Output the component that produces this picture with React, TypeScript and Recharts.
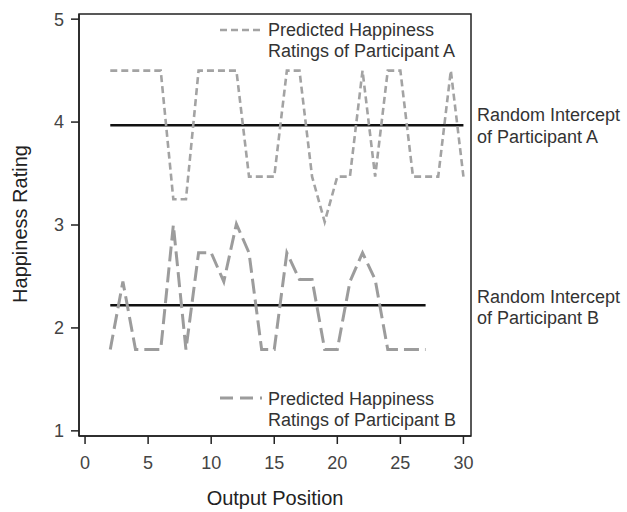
import { LineChart, Line, XAxis, YAxis } from 'recharts'

// output positions and predicted ratings
const positionsA = [2, 3, 4, 5, 6, 7, 8, 9, 10, 11, 12, 13, 14, 15, 16, 17, 18, 19, 20, 21, 22, 23, 24, 25, 26, 27, 28, 29, 30]
const ratingsA = [4.5, 4.5, 4.5, 4.5, 4.5, 3.25, 3.25, 4.5, 4.5, 4.5, 4.5, 3.47, 3.47, 3.47, 4.5, 4.5, 3.47, 3.03, 3.47, 3.47, 4.5, 3.47, 4.5, 4.5, 3.47, 3.47, 3.47, 4.5, 3.47]

const positionsB = [2, 3, 4, 5, 6, 7, 8, 9, 10, 11, 12, 13, 14, 15, 16, 17, 18, 19, 20, 21, 22, 23, 24, 25, 26, 27]
const ratingsB = [1.79, 2.45, 1.79, 1.79, 1.79, 3.0, 1.79, 2.73, 2.73, 2.45, 3.01, 2.73, 1.79, 1.79, 2.73, 2.47, 2.47, 1.79, 1.79, 2.45, 2.73, 2.47, 1.79, 1.79, 1.79, 1.79]

// random intercepts: [from, to] positions and level
const interceptASpan = [2, 30]
const interceptA = 3.97
const interceptBSpan = [2, 27]
const interceptB = 2.22

const xTicks = [0, 5, 10, 15, 20, 25, 30]
const yTicks = [1, 2, 3, 4, 5]

const seriesA = positionsA.map((x, i) => ({ x, y: ratingsA[i] }))
const seriesB = positionsB.map((x, i) => ({ x, y: ratingsB[i] }))
const lineA = interceptASpan.map((x) => ({ x, y: interceptA }))
const lineB = interceptBSpan.map((x) => ({ x, y: interceptB }))

const FONT = '"Liberation Sans", Arial, sans-serif'
const tickStyle = { fill: '#444', fontSize: 18, fontFamily: FONT }

export default function App() {
  return (
    <div style={{ position: 'relative', width: 627, height: 512, fontFamily: FONT }}>
      <style>{`body{margin:0}`}</style>
      <LineChart width={627} height={512} margin={{ top: 14, right: 156, bottom: 0, left: 0 }}>
        <XAxis
          dataKey="x" type="number" domain={[-0.48, 30.6]} ticks={xTicks} allowDataOverflow
          height={76} tick={tickStyle} tickSize={8} tickMargin={12}
          axisLine={{ stroke: '#222', strokeWidth: 1.5 }} tickLine={{ stroke: '#222', strokeWidth: 1.5 }}
        />
        <YAxis
          dataKey="y" type="number" domain={[0.95, 5.05]} ticks={yTicks} allowDataOverflow
          width={79} tick={tickStyle} tickSize={8} tickMargin={7}
          axisLine={{ stroke: '#222', strokeWidth: 1.5 }} tickLine={{ stroke: '#222', strokeWidth: 1.5 }}
        />
        <Line data={lineA} dataKey="y" stroke="#111" strokeWidth={2.5} dot={false} isAnimationActive={false} />
        <Line data={lineB} dataKey="y" stroke="#111" strokeWidth={2.5} dot={false} isAnimationActive={false} />
        <Line data={seriesA} dataKey="y" type="linear" stroke="#a3a3a3" strokeWidth={2.6}
          strokeDasharray="7 4" dot={false} isAnimationActive={false} />
        <Line data={seriesB} dataKey="y" type="linear" stroke="#9c9c9c" strokeWidth={3}
          strokeDasharray="15 6" dot={false} isAnimationActive={false} />
      </LineChart>

      <svg width={627} height={512} style={{ position: 'absolute', left: 0, top: 0, pointerEvents: 'none' }}
        fontFamily={FONT}>
        <rect x={79} y={14} width={392} height={422} fill="none" stroke="#222" strokeWidth={1.5} />

        <line x1={220} x2={262} y1={30} y2={30} stroke="#a3a3a3" strokeWidth={2.6} strokeDasharray="7 4" />
        <text x={268} y={36} fontSize={18} fill="#333">Predicted Happiness</text>
        <text x={268} y={57} fontSize={18} fill="#333">Ratings of Participant A</text>

        <line x1={220} x2={262} y1={398} y2={398} stroke="#9c9c9c" strokeWidth={3} strokeDasharray="13 7" />
        <text x={268} y={405} fontSize={18} fill="#333">Predicted Happiness</text>
        <text x={268} y={426} fontSize={18} fill="#333">Ratings of Participant B</text>

        <text x={477} y={121} fontSize={18} fill="#333">Random Intercept</text>
        <text x={477} y={143} fontSize={18} fill="#333">of Participant A</text>
        <text x={477} y={303} fontSize={18} fill="#333">Random Intercept</text>
        <text x={477} y={324} fontSize={18} fill="#333">of Participant B</text>

        <text x={275} y={505} fontSize={20} fill="#222" textAnchor="middle">Output Position</text>
        <text x={27} y={224} fontSize={20} fill="#222" textAnchor="middle" transform="rotate(-90 27 224)">Happiness Rating</text>
      </svg>
    </div>
  )
}
